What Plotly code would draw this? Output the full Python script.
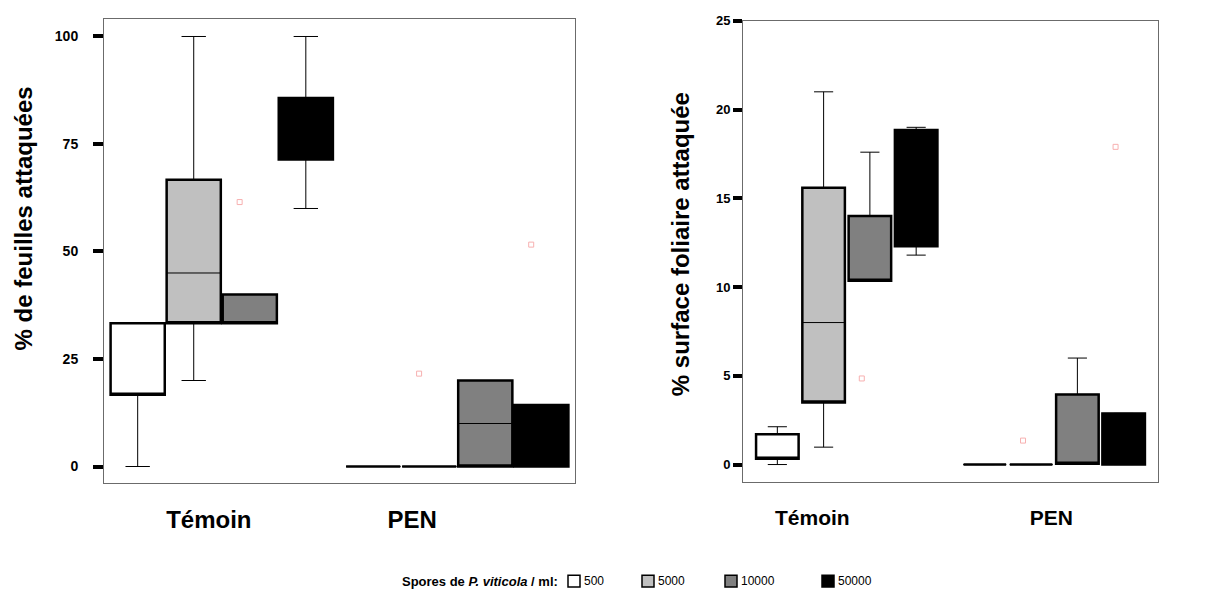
import plotly.graph_objects as go

# ---------------- data ----------------
categories = ["Témoin", "PEN"]
series = ["500", "5000", "10000", "50000"]
series_colors = ["#ffffff", "#c0c0c0", "#808080", "#000000"]

# Left panel: % de feuilles attaquées  (values per category: [Témoin, PEN])
feuilles_lower = {"500": [0, 0], "5000": [20, 0], "10000": [33.3, 0], "50000": [60, 0]}
feuilles_q1 = {"500": [16.7, 0], "5000": [33.3, 0], "10000": [33.3, 0], "50000": [71.4, 0]}
feuilles_median = {"500": [16.7, 0], "5000": [45, 0], "10000": [33.3, 10], "50000": [80, 0]}
feuilles_q3 = {"500": [33.3, 0], "5000": [66.7, 0], "10000": [40, 20], "50000": [85.7, 14.3]}
feuilles_upper = {"500": [33.3, 0], "5000": [100, 0], "10000": [40, 20], "50000": [100, 14.3]}
feuilles_out_cat = ["Témoin", "PEN", "PEN"]
feuilles_out_series = ["10000", "5000", "50000"]
feuilles_out_val = [61.5, 21.6, 51.6]

# Right panel: % surface foliaire attaquée
surface_lower = {"500": [0, 0], "5000": [0.98, 0], "10000": [10.35, 0.05], "50000": [11.8, 0]}
surface_q1 = {"500": [0.33, 0], "5000": [3.5, 0], "10000": [10.35, 0.05], "50000": [12.3, 0]}
surface_median = {"500": [0.4, 0], "5000": [8.0, 0], "10000": [10.35, 0.05], "50000": [14.5, 0]}
surface_q3 = {"500": [1.7, 0], "5000": [15.6, 0], "10000": [14.0, 3.95], "50000": [18.85, 2.88]}
surface_upper = {"500": [2.13, 0], "5000": [21.0, 0], "10000": [17.6, 6.0], "50000": [19.0, 2.88]}
surface_out_cat = ["Témoin", "PEN", "PEN"]
surface_out_series = ["10000", "5000", "50000"]
surface_out_val = [4.85, 1.35, 17.9]

left_yticks = [0, 25, 50, 75, 100]
right_yticks = [0, 5, 10, 15, 20, 25]
left_title = "% de feuilles attaquées"
right_title = "% surface foliaire attaquée"
legend_title = "Spores de <i>P. viticola</i> / ml:"

# ---------------- layout helpers ----------------
W, H = 1226, 590
FONT = "Liberation Sans, Arial, sans-serif"


def fx(px):
    return px / W


def fy(py):
    return 1 - py / H


fig = go.Figure()

panels = [
    dict(xa="x", ya="y", lower=feuilles_lower, q1=feuilles_q1, med=feuilles_median,
         q3=feuilles_q3, upper=feuilles_upper, slot=0.238, width=0.23,
         out_cat=feuilles_out_cat, out_series=feuilles_out_series, out_val=feuilles_out_val,
         out_shift=-0.043),
    dict(xa="x2", ya="y2", lower=surface_lower, q1=surface_q1, med=surface_median,
         q3=surface_q3, upper=surface_upper, slot=0.223, width=0.205,
         out_cat=surface_out_cat, out_series=surface_out_series, out_val=surface_out_val,
         out_shift=-0.039),
]

for p in panels:
    for i, s in enumerate(series):
        off = (i - 1.5) * p["slot"]
        xs = [g + off for g in range(len(categories))]
        # thick outlined, filled box
        fig.add_trace(go.Box(
            x=xs, q1=p["q1"][s], median=p["q1"][s], q3=p["q3"][s],
            lowerfence=p["q1"][s], upperfence=p["q3"][s],
            width=p["width"], fillcolor=series_colors[i],
            line=dict(color="#000000", width=2.5), whiskerwidth=0,
            xaxis=p["xa"], yaxis=p["ya"], showlegend=False, hoverinfo="skip",
            name=s,
        ))
        # thin whiskers + median
        fig.add_trace(go.Box(
            x=xs, q1=p["q1"][s], median=p["med"][s], q3=p["q3"][s],
            lowerfence=p["lower"][s], upperfence=p["upper"][s],
            width=p["width"], fillcolor="rgba(0,0,0,0)",
            line=dict(color="#000000", width=1), whiskerwidth=0.45,
            xaxis=p["xa"], yaxis=p["ya"], showlegend=False, hoverinfo="skip",
            name=s,
        ))
    # outlier markers
    ox = [categories.index(c) + (series.index(s) - 1.5) * p["slot"] + p["out_shift"]
          for c, s in zip(p["out_cat"], p["out_series"])]
    fig.add_trace(go.Scatter(
        x=ox, y=p["out_val"], mode="markers",
        marker=dict(symbol="square-open", size=5, color="#f7b0b0", line=dict(width=1)),
        xaxis=p["xa"], yaxis=p["ya"], showlegend=False, hoverinfo="skip",
    ))

frame = dict(showline=True, mirror=True, linecolor="#6b6b6b", linewidth=1,
             showgrid=False, zeroline=False)

fig.update_layout(
    width=W, height=H,
    margin=dict(l=0, r=0, t=0, b=0),
    paper_bgcolor="white", plot_bgcolor="white",
    font=dict(family=FONT, color="black"),
    boxmode="overlay",
    showlegend=False,
    xaxis=dict(domain=[fx(104), fx(575)], range=[-0.5, 1.5], anchor="y",
               tickvals=[-0.055, 0.809], ticktext=categories, ticks="",
               tickfont=dict(size=24, weight="bold", family=FONT),
               ticklabelstandoff=15, **frame),
    yaxis=dict(domain=[fy(482), fy(12)], range=[-3.9, 104.1], anchor="x",
               tickvals=left_yticks, ticks="outside", ticklen=10, tickwidth=4,
               tickcolor="black", tickfont=dict(size=14, weight="bold", family=FONT),
               ticklabelstandoff=12, **frame),
    xaxis2=dict(domain=[fx(743), fx(1158)], range=[-0.5, 1.5], anchor="y2",
                tickvals=[-0.166, 0.986], ticktext=categories, ticks="",
                tickfont=dict(size=21, weight="bold", family=FONT),
                ticklabelstandoff=17, **frame),
    yaxis2=dict(domain=[fy(481), fy(14)], range=[-1.0, 25], anchor="x2",
                tickvals=right_yticks, ticks="outside", ticklen=9, tickwidth=3.5,
                tickcolor="black", tickfont=dict(size=13, weight="bold", family=FONT),
                **frame),
)

annotations = [
    dict(text=left_title, x=fx(23), y=fy(214), xref="paper", yref="paper",
         textangle=-90, showarrow=False, xanchor="center", yanchor="middle",
         font=dict(size=24, weight="bold", family=FONT)),
    dict(text=right_title, x=fx(680), y=fy(240), xref="paper", yref="paper",
         textangle=-90, showarrow=False, xanchor="center", yanchor="middle",
         font=dict(size=24, weight="bold", family=FONT)),
    dict(text=legend_title, x=fx(560), y=fy(581), xref="paper", yref="paper",
         showarrow=False, xanchor="right", yanchor="middle",
         font=dict(size=13, weight="bold", family=FONT)),
]
shapes = []
legend_sq_x = [568, 642, 725, 822]
for sx, s, c in zip(legend_sq_x, series, series_colors):
    shapes.append(dict(type="rect", xref="paper", yref="paper",
                       x0=fx(sx), x1=fx(sx + 12), y0=fy(587), y1=fy(575),
                       fillcolor=c, line=dict(color="black", width=1.5)))
    annotations.append(dict(text=s, x=fx(sx + 14), y=fy(581), xref="paper", yref="paper",
                            showarrow=False, xanchor="left", yanchor="middle",
                            font=dict(size=12, family=FONT)))

fig.update_layout(annotations=annotations, shapes=shapes)

fig.write_html("out.html")
